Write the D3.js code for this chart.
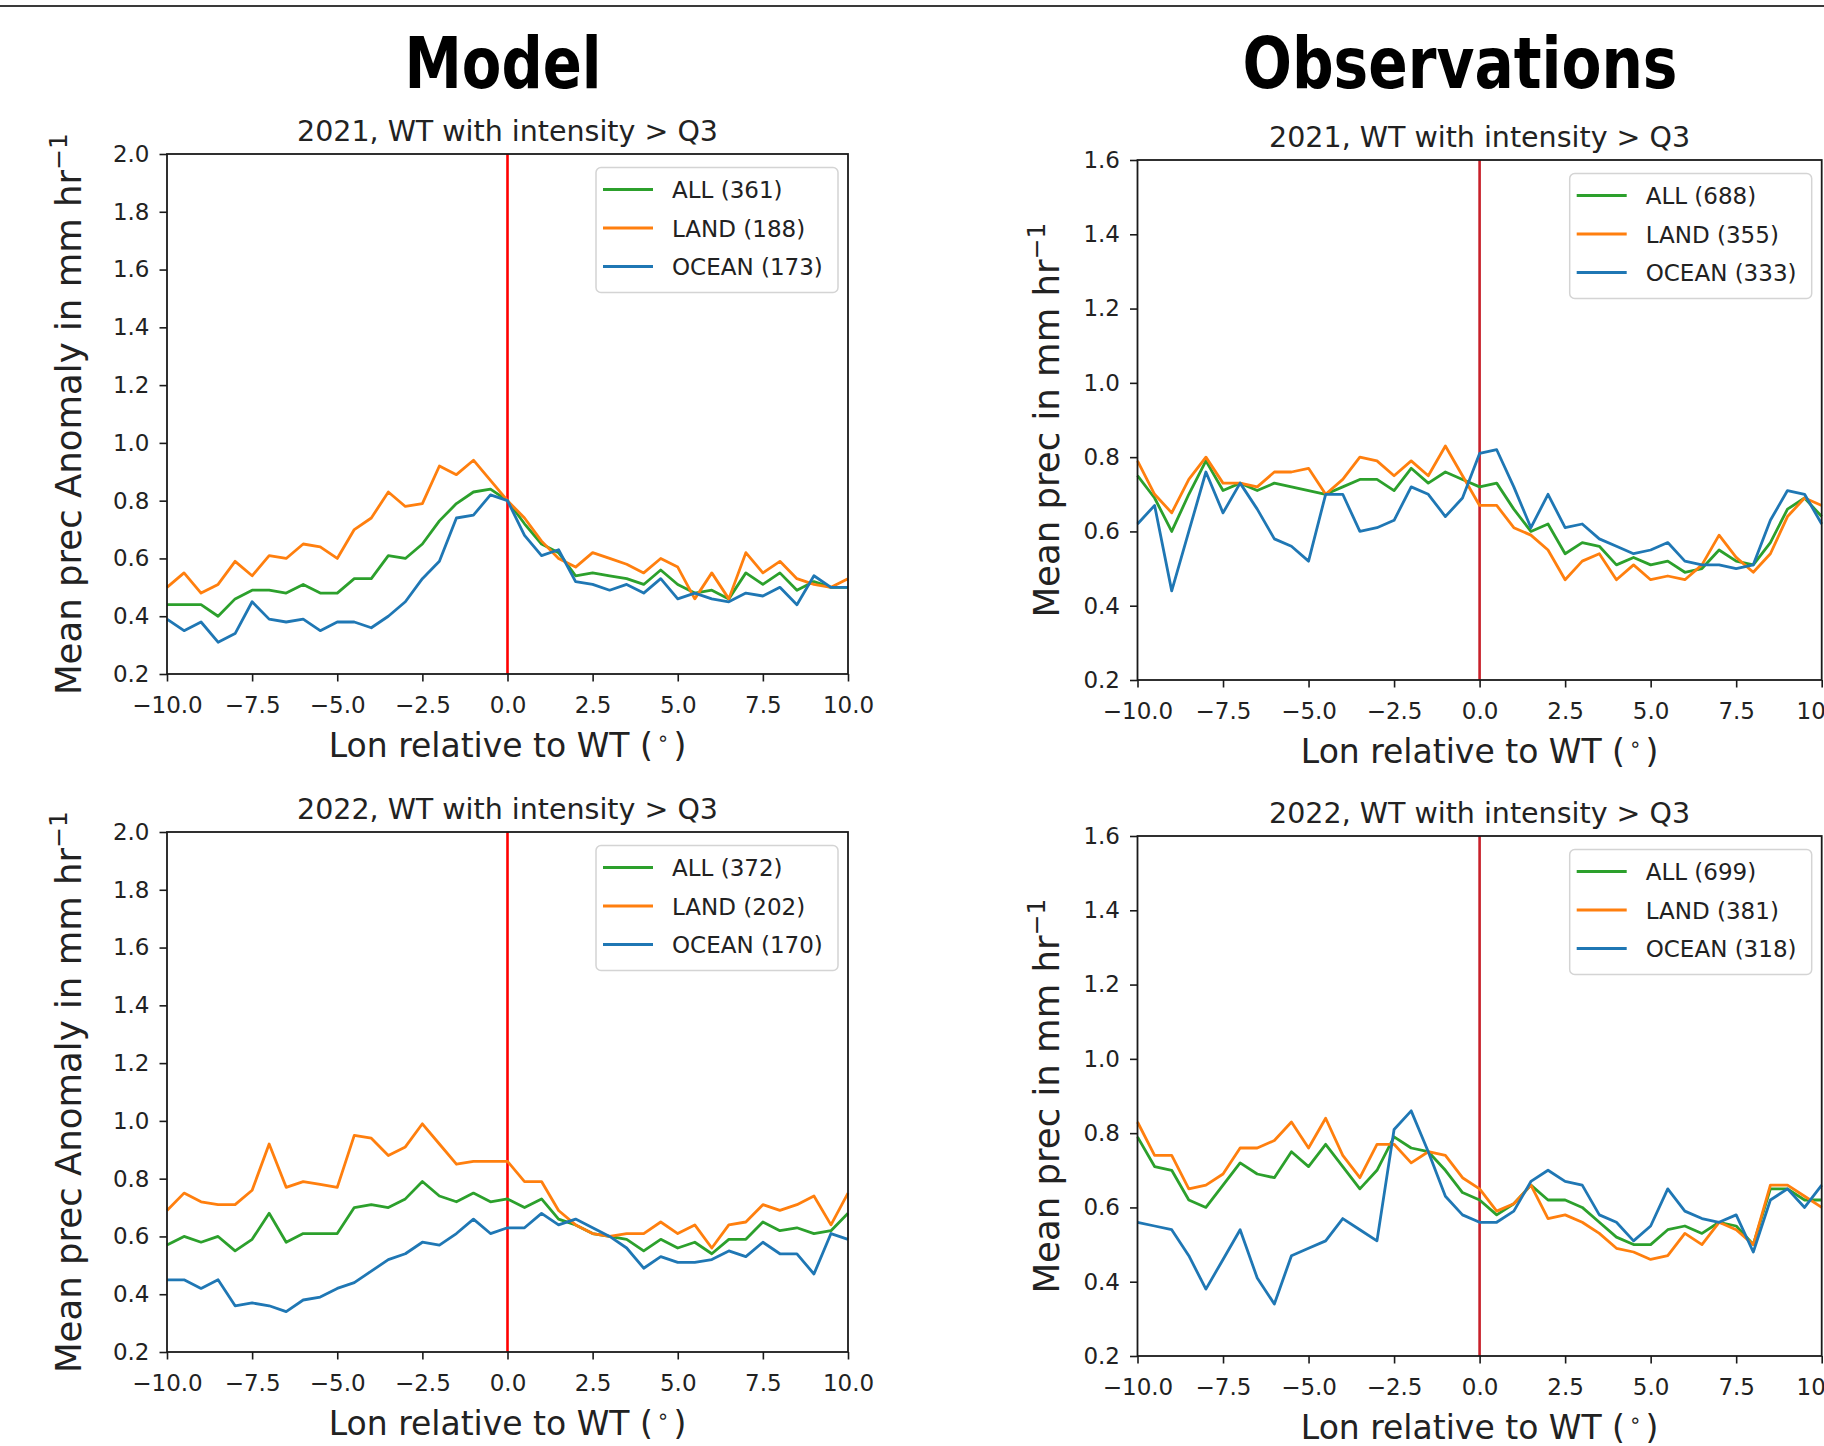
<!DOCTYPE html>
<html>
<head>
<meta charset="utf-8">
<script src="https://cdn.jsdelivr.net/npm/d3@7"></script>
<style>
  body { margin: 0; background: #fff; }
  svg { display: block; font-family: "DejaVu Sans", sans-serif; }
</style>
</head>
<body>
<svg id="chart" width="1824" height="1446"></svg>
<script>
// Longitude relative to the WT, one value every 0.5 degree
const lon = [-10, -9.5, -9, -8.5, -8, -7.5, -7, -6.5, -6, -5.5, -5, -4.5, -4, -3.5, -3, -2.5, -2, -1.5, -1, -0.5,
  0, 0.5, 1, 1.5, 2, 2.5, 3, 3.5, 4, 4.5, 5, 5.5, 6, 6.5, 7, 7.5, 8, 8.5, 9, 9.5, 10];

// Model, 2021
const modelAll2021 = [0.44, 0.44, 0.44, 0.40, 0.46, 0.49, 0.49, 0.48, 0.51, 0.48, 0.48, 0.53, 0.53, 0.61, 0.60, 0.65, 0.73, 0.79, 0.83, 0.84,
  0.80, 0.72, 0.65, 0.62, 0.54, 0.55, 0.54, 0.53, 0.51, 0.56, 0.51, 0.48, 0.49, 0.46, 0.55, 0.51, 0.55, 0.49, 0.52, 0.50, 0.50];
const modelLand2021 = [0.50, 0.55, 0.48, 0.51, 0.59, 0.54, 0.61, 0.60, 0.65, 0.64, 0.60, 0.70, 0.74, 0.83, 0.78, 0.79, 0.92, 0.89, 0.94, 0.87,
  0.80, 0.74, 0.66, 0.60, 0.57, 0.62, 0.60, 0.58, 0.55, 0.60, 0.57, 0.46, 0.55, 0.46, 0.62, 0.55, 0.59, 0.53, 0.51, 0.50, 0.53];
const modelOcean2021 = [0.39, 0.35, 0.38, 0.31, 0.34, 0.45, 0.39, 0.38, 0.39, 0.35, 0.38, 0.38, 0.36, 0.40, 0.45, 0.53, 0.59, 0.74, 0.75, 0.82,
  0.80, 0.68, 0.61, 0.63, 0.52, 0.51, 0.49, 0.51, 0.48, 0.53, 0.46, 0.48, 0.46, 0.45, 0.48, 0.47, 0.50, 0.44, 0.54, 0.50, 0.50];

// Observations, 2021
const obsAll2021 = [0.75, 0.69, 0.60, 0.70, 0.79, 0.71, 0.73, 0.71, 0.73, 0.72, 0.71, 0.70, 0.72, 0.74, 0.74, 0.71, 0.77, 0.73, 0.76, 0.74,
  0.72, 0.73, 0.66, 0.60, 0.62, 0.54, 0.57, 0.56, 0.51, 0.53, 0.51, 0.52, 0.49, 0.50, 0.55, 0.52, 0.51, 0.57, 0.66, 0.69, 0.64];
const obsLand2021 = [0.79, 0.70, 0.65, 0.74, 0.80, 0.73, 0.73, 0.72, 0.76, 0.76, 0.77, 0.70, 0.74, 0.80, 0.79, 0.75, 0.79, 0.75, 0.83, 0.75,
  0.67, 0.67, 0.61, 0.59, 0.55, 0.47, 0.52, 0.54, 0.47, 0.51, 0.47, 0.48, 0.47, 0.51, 0.59, 0.53, 0.49, 0.54, 0.64, 0.69, 0.67];
const obsOcean2021 = [0.62, 0.67, 0.44, 0.60, 0.76, 0.65, 0.73, 0.66, 0.58, 0.56, 0.52, 0.70, 0.70, 0.60, 0.61, 0.63, 0.72, 0.70, 0.64, 0.69,
  0.81, 0.82, 0.72, 0.61, 0.70, 0.61, 0.62, 0.58, 0.56, 0.54, 0.55, 0.57, 0.52, 0.51, 0.51, 0.50, 0.51, 0.63, 0.71, 0.70, 0.62];

// Model, 2022
const modelAll2022 = [0.57, 0.60, 0.58, 0.60, 0.55, 0.59, 0.68, 0.58, 0.61, 0.61, 0.61, 0.70, 0.71, 0.70, 0.73, 0.79, 0.74, 0.72, 0.75, 0.72,
  0.73, 0.70, 0.73, 0.66, 0.64, 0.61, 0.60, 0.59, 0.55, 0.59, 0.56, 0.58, 0.54, 0.59, 0.59, 0.65, 0.62, 0.63, 0.61, 0.62, 0.68];
const modelLand2022 = [0.69, 0.75, 0.72, 0.71, 0.71, 0.76, 0.92, 0.77, 0.79, 0.78, 0.77, 0.95, 0.94, 0.88, 0.91, 0.99, 0.92, 0.85, 0.86, 0.86,
  0.86, 0.79, 0.79, 0.69, 0.64, 0.61, 0.60, 0.61, 0.61, 0.65, 0.61, 0.64, 0.56, 0.64, 0.65, 0.71, 0.69, 0.71, 0.74, 0.64, 0.75];
const modelOcean2022 = [0.45, 0.45, 0.42, 0.45, 0.36, 0.37, 0.36, 0.34, 0.38, 0.39, 0.42, 0.44, 0.48, 0.52, 0.54, 0.58, 0.57, 0.61, 0.66, 0.61,
  0.63, 0.63, 0.68, 0.64, 0.66, 0.63, 0.60, 0.56, 0.49, 0.53, 0.51, 0.51, 0.52, 0.55, 0.53, 0.58, 0.54, 0.54, 0.47, 0.61, 0.59];

// Observations, 2022
const obsAll2022 = [0.79, 0.71, 0.70, 0.62, 0.60, 0.66, 0.72, 0.69, 0.68, 0.75, 0.71, 0.77, 0.71, 0.65, 0.70, 0.79, 0.76, 0.75, 0.70, 0.64,
  0.62, 0.58, 0.61, 0.66, 0.62, 0.62, 0.60, 0.56, 0.52, 0.50, 0.50, 0.54, 0.55, 0.53, 0.56, 0.55, 0.50, 0.65, 0.65, 0.62, 0.62];
const obsLand2022 = [0.83, 0.74, 0.74, 0.65, 0.66, 0.69, 0.76, 0.76, 0.78, 0.83, 0.76, 0.84, 0.74, 0.68, 0.77, 0.77, 0.72, 0.75, 0.74, 0.68,
  0.65, 0.59, 0.61, 0.66, 0.57, 0.58, 0.56, 0.53, 0.49, 0.48, 0.46, 0.47, 0.53, 0.50, 0.56, 0.54, 0.50, 0.66, 0.66, 0.63, 0.60];
const obsOcean2022 = [0.56, 0.55, 0.54, 0.47, 0.38, 0.46, 0.54, 0.41, 0.34, 0.47, 0.49, 0.51, 0.57, 0.54, 0.51, 0.81, 0.86, 0.75, 0.63, 0.58,
  0.56, 0.56, 0.59, 0.67, 0.70, 0.67, 0.66, 0.58, 0.56, 0.51, 0.55, 0.65, 0.59, 0.57, 0.56, 0.58, 0.48, 0.62, 0.65, 0.60, 0.66];

// Legend names and sample counts
const seriesNames = ["ALL", "LAND", "OCEAN"];
const countsModel2021 = [361, 188, 173];
const countsObs2021 = [688, 355, 333];
const countsModel2022 = [372, 202, 170];
const countsObs2022 = [699, 381, 318];

// Tick values
const xTicks = [-10, -7.5, -5, -2.5, 0, 2.5, 5, 7.5, 10];
const yTicksModel = [0.2, 0.4, 0.6, 0.8, 1.0, 1.2, 1.4, 1.6, 1.8, 2.0];
const yTicksObs = [0.2, 0.4, 0.6, 0.8, 1.0, 1.2, 1.4, 1.6];

const colors = ["#2ca02c", "#ff7f0e", "#1f77b4"];

const svg = d3.select("#chart");

// thin rule across the top
svg.append("line")
  .attr("x1", 0).attr("x2", 1824)
  .attr("y1", 6).attr("y2", 6)
  .attr("stroke", "#3a3a3a").attr("stroke-width", 2.2);

// Column headings
const headings = [
  { text: "Model", cx: 503, width: 197 },
  { text: "Observations", cx: 1460, width: 435 }
];
headings.forEach(h => {
  svg.append("text")
    .attr("x", h.cx - h.width / 2)
    .attr("y", 88)
    .attr("textLength", h.width)
    .attr("lengthAdjust", "spacingAndGlyphs")
    .style("font-family", "'DejaVu Sans Condensed', 'DejaVu Sans', sans-serif")
    .style("font-weight", "bold")
    .style("font-size", "71px")
    .attr("fill", "#000")
    .text(h.text);
});

const panels = [
  { title: "2021, WT with intensity > Q3", ylabel: "Mean prec Anomaly in mm hr", series: [modelAll2021, modelLand2021, modelOcean2021],
    counts: countsModel2021, yTicks: yTicksModel, left: 167, right: 848, top: 154, bottom: 674, red: "#ff0000", ylabelX: 81 },
  { title: "2021, WT with intensity > Q3", ylabel: "Mean prec in mm hr", series: [obsAll2021, obsLand2021, obsOcean2021],
    counts: countsObs2021, yTicks: yTicksObs, left: 1137.5, right: 1821.7, top: 160, bottom: 680, red: "#c8202a", ylabelX: 1059 },
  { title: "2022, WT with intensity > Q3", ylabel: "Mean prec Anomaly in mm hr", series: [modelAll2022, modelLand2022, modelOcean2022],
    counts: countsModel2022, yTicks: yTicksModel, left: 167, right: 848, top: 832, bottom: 1352, red: "#ff0000", ylabelX: 81 },
  { title: "2022, WT with intensity > Q3", ylabel: "Mean prec in mm hr", series: [obsAll2022, obsLand2022, obsOcean2022],
    counts: countsObs2022, yTicks: yTicksObs, left: 1137.5, right: 1821.7, top: 836, bottom: 1356, red: "#c8202a", ylabelX: 1059 }
];

const fmt = d3.format(".1f");

panels.forEach(p => {
  const x = d3.scaleLinear().domain([-10, 10]).range([p.left, p.right]);
  const y = d3.scaleLinear().domain(d3.extent(p.yTicks)).range([p.bottom, p.top]);
  const g = svg.append("g");

  // axes through d3 axis generators
  const xAxis = g.append("g")
    .attr("transform", `translate(0,${p.bottom})`)
    .call(d3.axisBottom(x).tickValues(xTicks).tickFormat(fmt).tickSize(7.5).tickPadding(15).tickSizeOuter(0));
  const yAxis = g.append("g")
    .attr("transform", `translate(${p.left},0)`)
    .call(d3.axisLeft(y).tickValues(p.yTicks).tickFormat(fmt).tickSize(7.5).tickPadding(10).tickSizeOuter(0));
  [xAxis, yAxis].forEach(a => {
    a.select(".domain").remove();
    a.selectAll(".tick line").attr("stroke", "#1a1a1a").attr("stroke-width", 1.6);
    a.selectAll(".tick text")
      .attr("fill", "#222")
      .style("font-family", "'DejaVu Sans', sans-serif")
      .style("font-size", "23px");
  });

  // red marker at the WT longitude
  g.append("line")
    .attr("x1", x(0)).attr("x2", x(0))
    .attr("y1", p.top).attr("y2", p.bottom)
    .attr("stroke", p.red).attr("stroke-width", 2.6);

  // series lines
  const line = d3.line().x((d, i) => x(lon[i])).y(d => y(d));
  p.series.forEach((vals, k) => {
    g.append("path")
      .datum(vals)
      .attr("d", line)
      .attr("fill", "none")
      .attr("stroke", colors[k])
      .attr("stroke-width", 2.8)
      .attr("stroke-linejoin", "round");
  });

  // frame
  g.append("rect")
    .attr("x", p.left).attr("y", p.top)
    .attr("width", p.right - p.left).attr("height", p.bottom - p.top)
    .attr("fill", "none").attr("stroke", "#1a1a1a").attr("stroke-width", 1.8);

  // subplot title
  g.append("text")
    .attr("x", (p.left + p.right) / 2).attr("y", p.top - 13)
    .attr("text-anchor", "middle")
    .attr("fill", "#222")
    .style("font-size", "28.5px")
    .text(p.title);

  // x label
  const xl = g.append("text")
    .attr("x", (p.left + p.right) / 2).attr("y", p.bottom + 83)
    .attr("text-anchor", "middle")
    .attr("fill", "#222")
    .style("font-size", "33px");
  xl.append("tspan").text("Lon relative to WT (");
  xl.append("tspan").attr("dy", -12).style("font-size", "20px").text("\u2009\u2218\u2009");
  xl.append("tspan").attr("dy", 12).text(")");

  // y label
  const yl = g.append("text")
    .attr("transform", `translate(${p.ylabelX},${(p.top + p.bottom) / 2}) rotate(-90)`)
    .attr("text-anchor", "middle")
    .attr("fill", "#222")
    .style("font-size", "35.5px");
  yl.append("tspan").text(p.ylabel);
  yl.append("tspan").attr("dy", -14).style("font-size", "25px").text("\u2212" + "1");

  // legend
  const lgW = 242, lgH = 125;
  const lg = g.append("g").attr("transform", `translate(${p.right - 10 - lgW},${p.top + 13.5})`);
  lg.append("rect")
    .attr("width", lgW).attr("height", lgH).attr("rx", 5)
    .attr("fill", "#fff").attr("fill-opacity", 0.8)
    .attr("stroke", "#d4d4d4").attr("stroke-width", 1.5);
  seriesNames.forEach((name, k) => {
    const ry = 22 + k * 38.5;
    lg.append("line")
      .attr("x1", 7).attr("x2", 57).attr("y1", ry).attr("y2", ry)
      .attr("stroke", colors[k]).attr("stroke-width", 3);
    lg.append("text")
      .attr("x", 76).attr("y", ry + 8.5)
      .attr("fill", "#222")
      .style("font-size", "23px")
      .text(`${name} (${p.counts[k]})`);
  });
});
</script>
</body>
</html>
